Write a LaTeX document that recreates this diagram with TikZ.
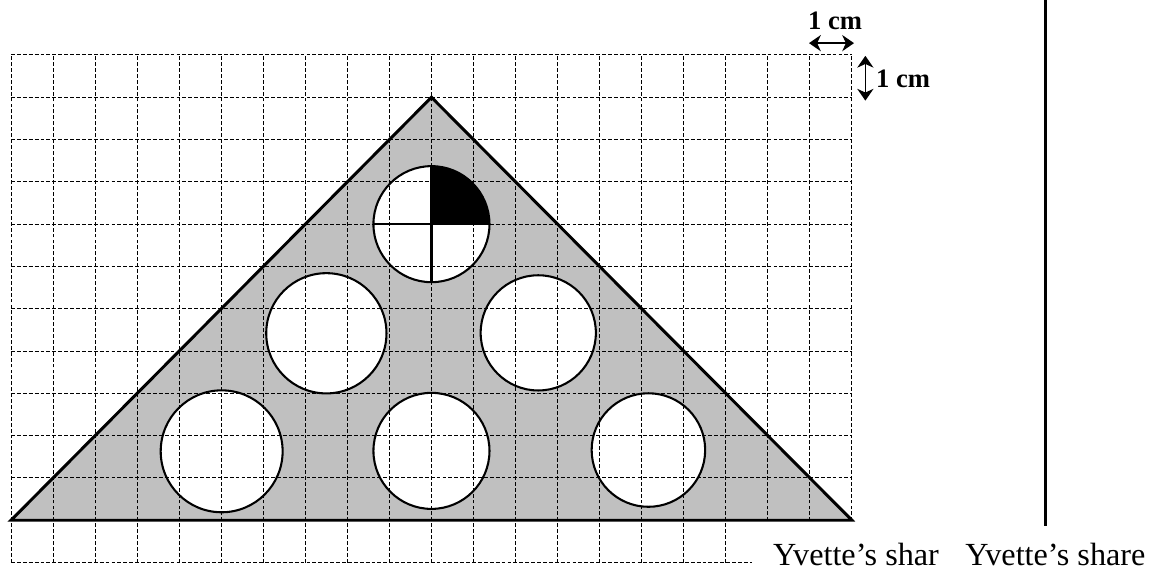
\documentclass[tikz,border=0pt]{standalone}
\usepackage{fontspec}
\setmainfont{Liberation Serif}
\usepackage{tikz}
\usetikzlibrary{arrows.meta}
\definecolor{sharegray}{RGB}{192,192,192}

\begin{document}
\begin{tikzpicture}[
  x=1cm, y=1.006cm,
  gridline/.style={black, line width=0.65pt, dash pattern=on 2.6pt off 1.4pt},
  edge/.style={line width=2pt, line join=miter},
  hole/.style={circle, fill=white, inner sep=0pt, outer sep=0pt},
  rim/.style={line width=1.4pt},
  measure/.style={{Stealth[length=8pt,width=11pt,inset=2.5pt]}-{Stealth[length=8pt,width=11pt,inset=2.5pt]}, line width=0.9pt},
  cmtext/.style={font=\bfseries\fontsize{18}{20}\selectfont, inner sep=0pt},
  sharetext/.style={font=\fontsize{21.8}{24}\selectfont, inner sep=0pt}
]
\useasboundingbox (-0.262,-0.14) rectangle (27.09,13.30);

% Triangle
\coordinate (left) at (0,1);
\coordinate (right) at (20,1);
\coordinate (apex) at (10,11);
\fill[sharegray] (left) -- (right) -- (apex) -- cycle;

% Holes
\foreach \n/\cx/\cy/\r in {top/10/8/1.38, midl/7.5/5.42/1.43, midr/12.54/5.43/1.37,
                           botl/5.01/2.63/1.45, botm/10/2.64/1.38, botr/15.16/2.66/1.35}
  \node[hole, minimum size=\r*2cm] (\n) at (\cx,\cy) {};

% Grid
\foreach \i in {0,...,20}
  \draw[gridline] (\i,0) -- (\i,12);
\foreach \j in {0,...,12}
  \draw[gridline] (0,\j) -- (20,\j);

% Labels under the grid
\node[sharetext, fill=white, anchor=base west, inner xsep=14.2pt, inner ysep=14pt] (shar) at (17.62,-0.06) {Yvette’s shar};
\node[sharetext, anchor=base west] (share) at (22.69,-0.06) {Yvette’s share};

% Outlines
\draw[edge] (left) -- (right) -- (apex) -- cycle;
\foreach \n/\r in {top/1.38, midl/1.43, midr/1.37, botl/1.45, botm/1.38, botr/1.35}
  \draw[rim] (\n.center) circle[radius=\r cm];

% Quarter of the top hole
\fill (top.center) -- (top.east) arc[start angle=0, end angle=90, radius=1.38cm] -- cycle;
\draw[rim] (top.north) -- (top.south);
\draw[rim] (top.west) -- (top.east);

% Scale
\coordinate (hl) at (18.98,12.28);
\coordinate (hr) at (20.05,12.28);
\coordinate (vt) at (20.32,11.98);
\coordinate (vb) at (20.32,10.92);
\draw[measure] (hl) -- (hr);
\draw[measure] (vt) -- (vb);
\node[cmtext, anchor=base] (cmh) at (19.6,12.61) {1 cm};
\node[cmtext, anchor=base west] (cmv) at (20.57,11.22) {1 cm};

% Bar on the right
\coordinate (bartop) at (24.61,13.30);
\coordinate (barbot) at (24.61,0.865);
\draw[line width=2.2pt] (bartop) -- (barbot);

\end{tikzpicture}
\end{document}
